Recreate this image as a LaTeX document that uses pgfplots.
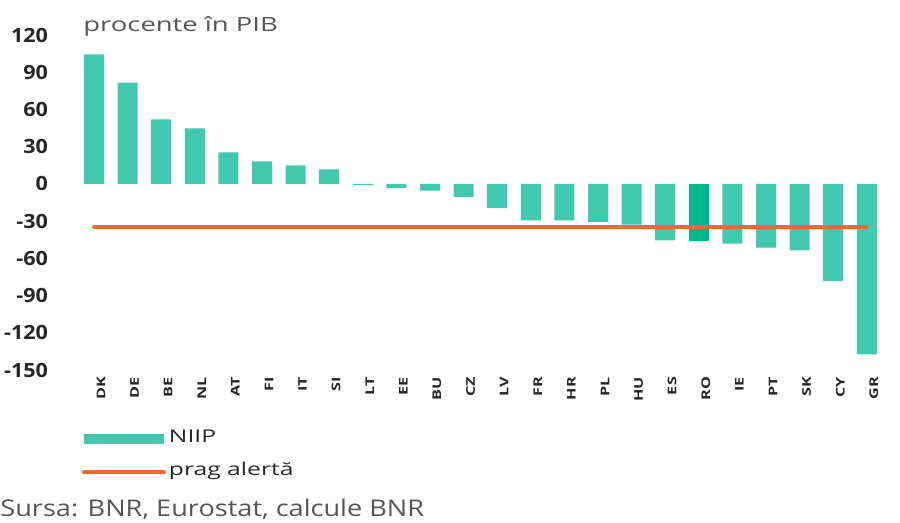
\documentclass[border=0pt]{standalone}
\usepackage{fontspec}
\setmainfont{Open Sans}
\newfontfamily\widefont[FakeStretch=1.4]{Open Sans}
\newfontfamily\legfont[FakeStretch=1.4]{Open Sans}
\newfontfamily\srcfont[FakeStretch=1.18]{Open Sans}
\newfontfamily\tickfont[FakeStretch=1.1]{Open Sans}
\newfontfamily\xtickfont[FakeStretch=1.35]{Open Sans}
\usepackage{pgfplots}
\pgfplotsset{compat=1.18}
\definecolor{barc}{HTML}{41C9AF}
\definecolor{roc}{HTML}{00B68D}
\definecolor{linec}{HTML}{F26A2A}
\definecolor{txtg}{HTML}{555555}
\begin{document}
\begin{tikzpicture}
\useasboundingbox (-37.5pt,-76.5pt) rectangle (412.5pt,185pt);
\begin{axis}[
  at={(0,0)}, anchor=south west,
  scale only axis, width=407.5pt, height=167.5pt,
  xmin=-0.565, xmax=23.69, ymin=-150, ymax=120,
  axis line style={draw=none}, major tick length=0pt,
  ytick={-150,-120,...,120},
  xtick={0,...,23},
  xticklabels={DK,DE,BE,NL,AT,FI,IT,SI,LT,EE,BU,CZ,LV,FR,HR,PL,HU,ES,RO,IE,PT,SK,CY,GR},
  /pgf/number format/assume math mode=true,
  yticklabel style={font=\tickfont\bfseries\fontsize{9.8}{10}\selectfont, text=black!85, anchor=east, xshift=-10pt},
  xticklabel style={font=\xtickfont\bfseries\fontsize{6}{6}\selectfont, text=black!85, rotate=90, anchor=east, yshift=-3.5pt},
  clip=false,
  legend style={at={(axis description cs:0,0)}, anchor=north west, xshift=3.5pt, yshift=-30.5pt,
    draw=none, fill=none, inner sep=0pt, outer sep=0pt, row sep=8.7pt,
    font=\legfont\fontsize{8.8}{9}\selectfont, text=black!85,
    nodes={inner sep=0pt, text height=6pt, text depth=1.8pt}},
  legend cell align=left,
]
\addplot[ybar, bar width=10pt, bar shift=0pt, fill=barc, draw=none,
  legend image code/.code={\fill[barc] (0pt,-2.5pt) rectangle (40pt,2.5pt);}]
  coordinates {(0,104.3) (1,81.7) (2,52) (3,44.7) (4,25.4) (5,18.1) (6,14.9) (7,11.7)
  (8,-1) (9,-3.5) (10,-5.5) (11,-10.5) (12,-19.5) (13,-29.4) (14,-29.4) (15,-30.7)
  (16,-32.9) (17,-45.5) (19,-48.2) (20,-51.4) (21,-53.5) (22,-78.3) (23,-137.5)};
\addlegendentry{\hspace{1.5pt}NIIP}
\addplot[ybar, bar width=10pt, bar shift=0pt, fill=roc, draw=none, forget plot]
  coordinates {(18,-46.3)};
\addplot[linec, line width=2pt, line cap=round, sharp plot,
  legend image code/.code={\draw[linec, line width=2pt, line cap=round] (0pt,0pt) -- (40pt,0pt);}]
  coordinates {(0,-35) (23,-35)};
\addlegendentry{\hspace{1.5pt}prag alertă}
\end{axis}
\node[anchor=base west, inner sep=0pt, text=txtg, font=\widefont\fontsize{9.8}{10}\selectfont] at (4pt,169pt) {procente în PIB};
\node[anchor=base west, inner sep=0pt, text=txtg, font=\srcfont\fontsize{11.5}{12}\selectfont] at (-37.5pt,-73.5pt) {Sursa: BNR, Eurostat, calcule BNR};
\end{tikzpicture}
\end{document}
